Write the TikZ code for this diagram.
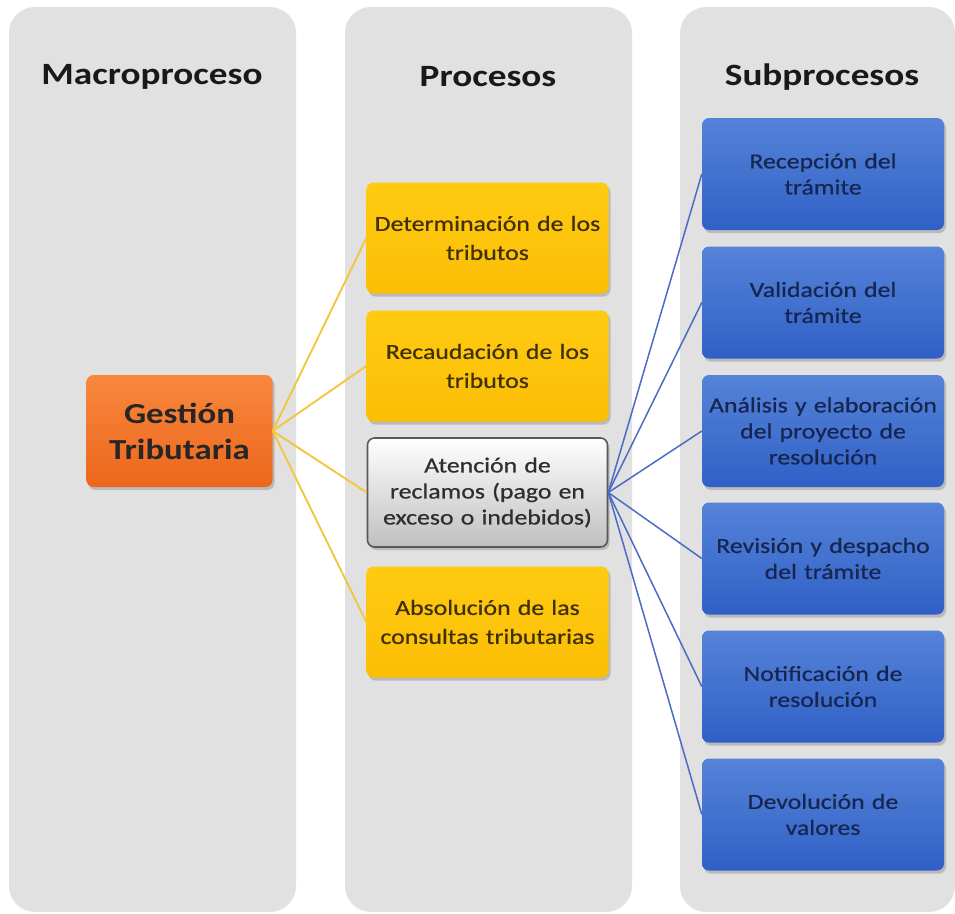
\documentclass[tikz,border=0pt]{standalone}
\usepackage{fontspec}
\setmainfont{Carlito}[FakeStretch=1.2]
\newfontfamily\boxfont{Carlito}[FakeStretch=1.2,FakeBold=0.6]
\usetikzlibrary{shadows,backgrounds}
\definecolor{panelgray}{HTML}{E1E1E1}
\definecolor{orangetop}{HTML}{F8873E}
\definecolor{orangebot}{HTML}{EC671C}
\definecolor{yellowtop}{HTML}{FFCB12}
\definecolor{yellowbot}{HTML}{FBBE05}
\definecolor{bluetop}{HTML}{5583D8}
\definecolor{bluebot}{HTML}{3060C6}
\definecolor{yline}{HTML}{F3C63F}
\definecolor{bline}{HTML}{4A6CC4}
\definecolor{ytext}{HTML}{3F3105}
\definecolor{btext}{HTML}{172650}
\definecolor{gtext}{HTML}{2E2E2E}
\tikzset{
  panel/.style={fill=panelgray, draw=none, rounded corners=26pt},
  heading/.style={font=\bfseries\fontsize{31}{36}\selectfont, text=black!90},
  boxbase/.style={rounded corners=7pt, align=center, inner sep=2pt,
    drop shadow={shadow xshift=2pt, shadow yshift=-3pt, opacity=0.4}},
  macrobox/.style={boxbase, top color=orangetop, bottom color=orangebot,
    minimum width=186pt, minimum height=112pt, text width=182pt,
    font=\bfseries\fontsize{29}{36}\selectfont, text=black!85},
  procbox/.style={boxbase, top color=yellowtop, bottom color=yellowbot,
    minimum width=241pt, minimum height=111pt, text width=238pt,
    font=\boxfont\fontsize{21.5}{29}\selectfont, text=ytext},
  selbox/.style={boxbase, top color=white, bottom color=black!25, draw=black!65, line width=1.6pt,
    minimum width=239pt, minimum height=109pt, text width=236pt,
    font=\boxfont\fontsize{21.5}{26}\selectfont, text=gtext},
  subbox/.style={boxbase, top color=bluetop, bottom color=bluebot,
    minimum width=240pt, minimum height=112pt, text width=238pt,
    font=\boxfont\fontsize{21.5}{26}\selectfont, text=btext},
  yconn/.style={draw=yline, line width=1.9pt},
  bconn/.style={draw=bline, line width=1.5pt},
}
\begin{document}
\begin{tikzpicture}[x=1pt,y=-1pt]
\useasboundingbox (0,0) rectangle (955,913);
% panels
\fill[panel] (9,7) rectangle (296,912);
\fill[panel] (345,7) rectangle (632,912);
\fill[panel] (680,7) rectangle (955,912);
% headings
\node[heading] (h1) at (152,77) {Macroproceso};
\node[heading] (h2) at (488,77) {Procesos};
\node[heading] (h3) at (822,77) {Subprocesos};
% boxes
\node[macrobox] (macro) at (179.5,431) {Gestión\\Tributaria};
\node[procbox] (p1) at (487.5,238) {Determinación de los\\tributos};
\node[procbox] (p2) at (487.5,366) {Recaudación de los\\tributos};
\node[selbox] (p3) at (487.5,492.5) {Atención de\\reclamos (pago en\\exceso o indebidos)};
\node[procbox] (p4) at (487.5,622) {Absolución de las\\consultas tributarias};
\node[subbox] (s1) at (823,174) {Recepción del\\trámite};
\node[subbox] (s2) at (823,302.5) {Validación del\\trámite};
\node[subbox] (s3) at (823,431) {Análisis y elaboración\\del proyecto de\\resolución};
\node[subbox] (s4) at (823,558.5) {Revisión y despacho\\del trámite};
\node[subbox] (s5) at (823,686.5) {Notificación de\\resolución};
\node[subbox] (s6) at (823,814.5) {Devolución de\\valores};
% connectors
\foreach \p in {p1,p2,p3,p4}{
  \draw[yconn] (macro.east) -- (\p.west);
}
\foreach \s in {s1,s2,s3,s4,s5,s6}{
  \draw[bconn] (p3.east) -- (\s.west);
}
\end{tikzpicture}
\end{document}
